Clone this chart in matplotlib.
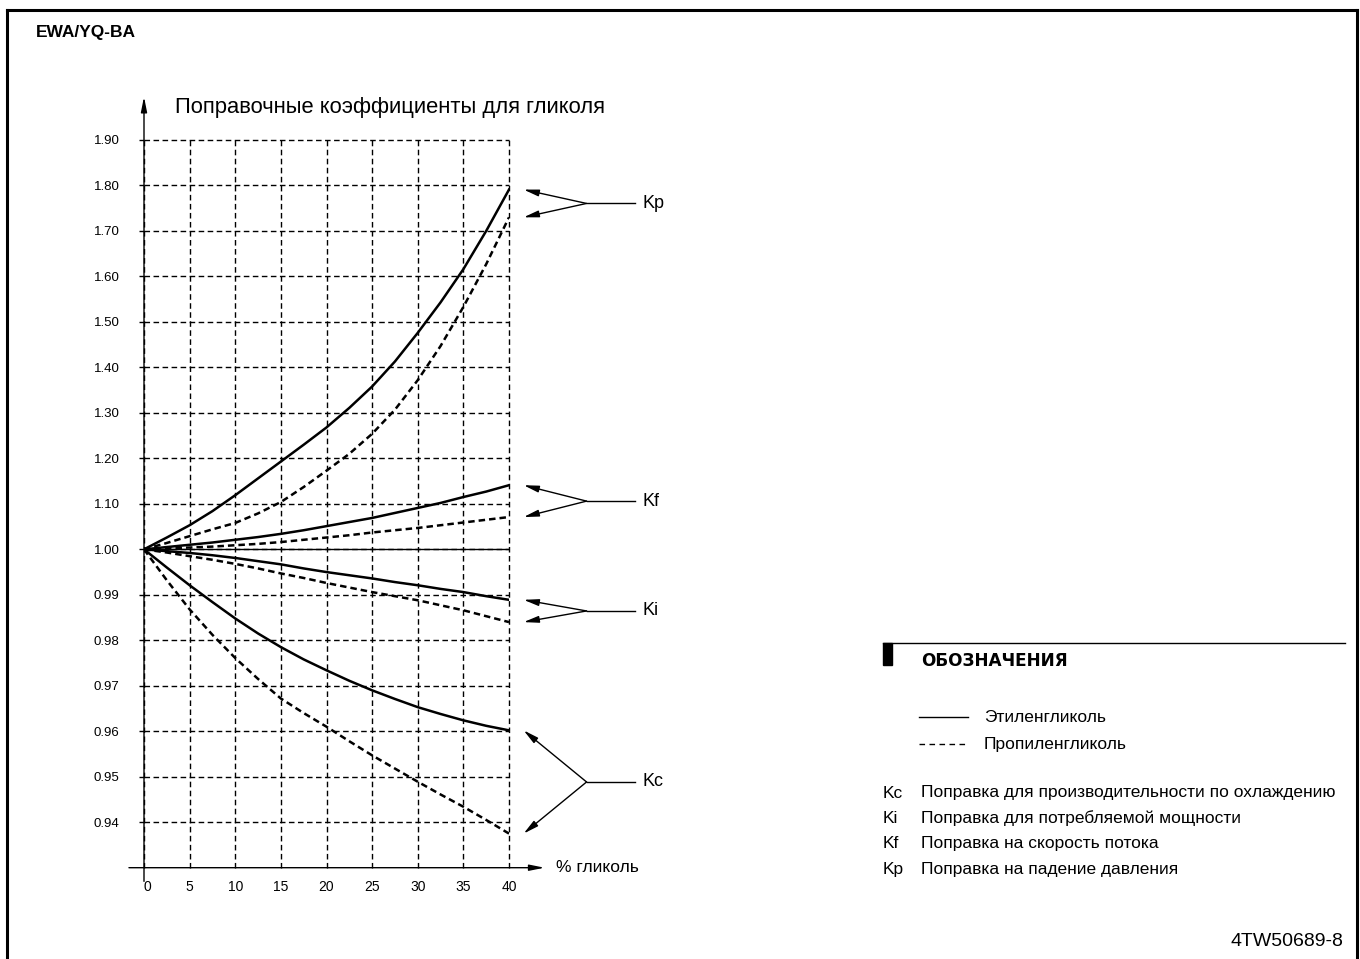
import numpy as np
import matplotlib
matplotlib.use("Agg")
import matplotlib.pyplot as plt
from matplotlib import font_manager
from matplotlib.lines import Line2D
from matplotlib.patches import Rectangle

# ---------------------------------------------------------------------------
# data (every 2.5 % glycol)
# ---------------------------------------------------------------------------
glycol = [0, 2.5, 5, 7.5, 10, 12.5, 15, 17.5, 20,
          22.5, 25, 27.5, 30, 32.5, 35, 37.5, 40]

kp_eth = [1.000, 1.026, 1.053, 1.084, 1.119, 1.156, 1.193, 1.230, 1.268,
          1.311, 1.358, 1.413, 1.476, 1.543, 1.616, 1.700, 1.791]
kp_pro = [1.000, 1.014, 1.029, 1.044, 1.058, 1.079, 1.104, 1.137, 1.173,
          1.210, 1.254, 1.307, 1.372, 1.447, 1.533, 1.627, 1.730]
kf_eth = [1.000, 1.005, 1.010, 1.015, 1.021, 1.027, 1.034, 1.042, 1.051,
          1.060, 1.069, 1.080, 1.091, 1.102, 1.115, 1.127, 1.141]
kf_pro = [1.000, 1.002, 1.004, 1.006, 1.009, 1.012, 1.016, 1.021, 1.026,
          1.031, 1.037, 1.042, 1.047, 1.053, 1.059, 1.065, 1.071]
ki_eth = [1.000, 0.9996, 0.9992, 0.9987, 0.9981, 0.9974, 0.9967, 0.9958, 0.9950,
          0.9943, 0.9936, 0.9928, 0.9921, 0.9913, 0.9906, 0.9897, 0.9889]
ki_pro = [1.000, 0.9993, 0.9985, 0.9977, 0.9968, 0.9958, 0.9947, 0.9937, 0.9926,
          0.9916, 0.9906, 0.9897, 0.9888, 0.9877, 0.9866, 0.9853, 0.9840]
kc_eth = [1.000, 0.9960, 0.9921, 0.9884, 0.9848, 0.9815, 0.9785, 0.9758, 0.9734,
          0.9711, 0.9690, 0.9671, 0.9653, 0.9638, 0.9624, 0.9612, 0.9602]
kc_pro = [1.000, 0.9932, 0.9868, 0.9812, 0.9761, 0.9715, 0.9672, 0.9640, 0.9610,
          0.9578, 0.9547, 0.9518, 0.9489, 0.9461, 0.9434, 0.9405, 0.9375]

y_ticks = [0.94, 0.95, 0.96, 0.97, 0.98, 0.99, 1.00,
           1.10, 1.20, 1.30, 1.40, 1.50, 1.60, 1.70, 1.80, 1.90]
y_tick_labels = ["0.94", "0.95", "0.96", "0.97", "0.98", "0.99", "1.00",
                 "1.10", "1.20", "1.30", "1.40", "1.50", "1.60", "1.70", "1.80", "1.90"]
x_ticks = [0, 5, 10, 15, 20, 25, 30, 35, 40]

groups = [("Kp", kp_eth, kp_pro), ("Kf", kf_eth, kf_pro),
          ("Ki", ki_eth, ki_pro), ("Kc", kc_eth, kc_pro)]

legend_keys = ["Kc", "Ki", "Kf", "Kp"]
legend_texts = ["Поправка для производительности по охлаждению",
                "Поправка для потребляемой мощности",
                "Поправка на скорость потока",
                "Поправка на падение давления"]

# ---------------------------------------------------------------------------
# style
# ---------------------------------------------------------------------------
W, H = 1360, 959


def pick_font(names):
    for n in names:
        try:
            font_manager.findfont(n, fallback_to_default=False)
            return n
        except Exception:
            pass
    return "DejaVu Sans"


SANS = pick_font(["Liberation Sans", "Arial"])
NARROW = pick_font(["Liberation Sans Narrow", "Liberation Sans"])
plt.rcParams["font.family"] = [SANS, "DejaVu Sans"]


def fx(px):
    return px / W


def fy(py):
    return 1.0 - py / H


# piecewise scale: 0.1 per step above 1.00, 0.01 per step below
def fwd(v):
    v = np.asarray(v, dtype=float)
    return np.where(v >= 1.0, (v - 1.0) / 0.1, (v - 1.0) / 0.01)


def inv(p):
    p = np.asarray(p, dtype=float)
    return np.where(p >= 0.0, 1.0 + 0.1 * p, 1.0 + 0.01 * p)


fig = plt.figure(figsize=(W / 100, H / 100), dpi=100)

ax_left, ax_right = 144, 509
ax_top, ax_bottom = 140, 867.7
ax = fig.add_axes([fx(ax_left), fy(ax_bottom),
                   (ax_right - ax_left) / W, (ax_bottom - ax_top) / H])
ax.set_yscale("function", functions=(fwd, inv))
ax.set_xlim(0, 40)
ax.set_ylim(0.93, 1.90)

for s in ax.spines.values():
    s.set_visible(False)

ax.set_yticks(y_ticks)
ax.set_yticklabels(y_tick_labels, fontfamily=NARROW, fontsize=9.5)
ax.set_xticks(x_ticks)
ax.set_xticklabels([str(v) for v in x_ticks], fontfamily=NARROW, fontsize=10)
ax.xaxis.get_majorticklabels()[0].set_horizontalalignment("left")
ax.yaxis.minorticks_off()
ax.tick_params(axis="y", direction="out", length=3.6, width=1.0, pad=14)
ax.tick_params(axis="x", length=0, pad=9)

ax.grid(True, color="k", linewidth=1.0, linestyle=(0, (4, 2.5)))
for gl in ax.get_xgridlines() + ax.get_ygridlines():
    gl.set_clip_on(False)

ax.axhline(1.0, color="k", lw=1.0, zorder=3)

# axis lines with arrows
arrow_kw = dict(arrowstyle="-|>,head_length=0.9,head_width=0.18",
                color="k", lw=1.0, shrinkA=0, shrinkB=0)
ax.annotate("", xy=(0, float(inv(9.95))), xytext=(0, float(inv(-7.3))),
            arrowprops=arrow_kw, annotation_clip=False)
ax.annotate("", xy=(43.9, 0.93), xytext=(-1.65, 0.93),
            arrowprops=arrow_kw, annotation_clip=False)

# curves
for name, eth, pro in groups:
    ax.plot(glycol, eth, color="k", lw=1.8, solid_joinstyle="round", zorder=4)
    ax.plot(glycol, pro, color="k", lw=1.8, linestyle=(0, (2.6, 1.6)), zorder=4)

# side markers
ptr_kw = dict(arrowstyle="-|>,head_length=0.9,head_width=0.2",
              color="k", lw=1.0, shrinkA=0, shrinkB=0)
for name, eth, pro in groups:
    hi, lo = max(eth[-1], pro[-1]), min(eth[-1], pro[-1])
    jy = float(inv((fwd(hi) + fwd(lo)) / 2))
    for v in (hi, lo):
        ax.annotate("", xy=(41.6, v), xytext=(48.5, jy),
                    arrowprops=ptr_kw, annotation_clip=False)
    ax.plot([48.5, 53.8], [jy, jy], color="k", lw=1.0, clip_on=False)
    ax.text(54.6, jy, name, fontsize=13, fontfamily=NARROW,
            ha="left", va="center")

ax.text(45.2, 0.93, "% гликоль", fontsize=12.5, fontfamily=NARROW,
        ha="left", va="center")
fig.text(fx(175), fy(108), "Поправочные коэффициенты для гликоля",
         fontsize=15.8, fontfamily=NARROW, ha="left", va="center")

# header and footer
fig.text(fx(36), fy(32), "EWA/YQ-BA", fontsize=12.5, fontweight="bold",
         ha="left", va="center")
fig.text(fx(1343), fy(942), "4TW50689-8", fontsize=14, ha="right", va="center")

# frame (open at the bottom)
frame = [([7, 7], [H, 10]), ([7, 1357], [10, 10]), ([1357, 1357], [10, H])]
for xs, ys in frame:
    fig.add_artist(Line2D([fx(x) for x in xs], [fy(y) for y in ys],
                          color="k", lw=2.2))

# legend block
fig.add_artist(Line2D([fx(883), fx(1345)], [fy(643), fy(643)], color="k", lw=1.0))
fig.add_artist(Rectangle((fx(883), fy(665)), 9 / W, 22 / H,
                         color="k", transform=fig.transFigure))
fig.text(fx(921), fy(661), "ОБОЗНАЧЕНИЯ", fontsize=12.2, fontweight="heavy",
         family="DejaVu Sans", ha="left", va="center")

fig.add_artist(Line2D([fx(919), fx(968)], [fy(717), fy(717)], color="k", lw=1.0))
fig.add_artist(Line2D([fx(919), fx(968)], [fy(744), fy(744)], color="k", lw=1.0,
                      linestyle=(0, (4, 3.2))))
fig.text(fx(984), fy(717), "Этиленгликоль", fontsize=12.5, ha="left", va="center")
fig.text(fx(984), fy(744), "Пропиленгликоль", fontsize=12.5, ha="left", va="center")

for i, (k, t) in enumerate(zip(legend_keys, legend_texts)):
    y = 793 + i * 25.4
    fig.text(fx(883), fy(y), k, fontsize=12.5, ha="left", va="center")
    fig.text(fx(921), fy(y), t, fontsize=12.5, ha="left", va="center")

fig.savefig("out.png", dpi=100)
